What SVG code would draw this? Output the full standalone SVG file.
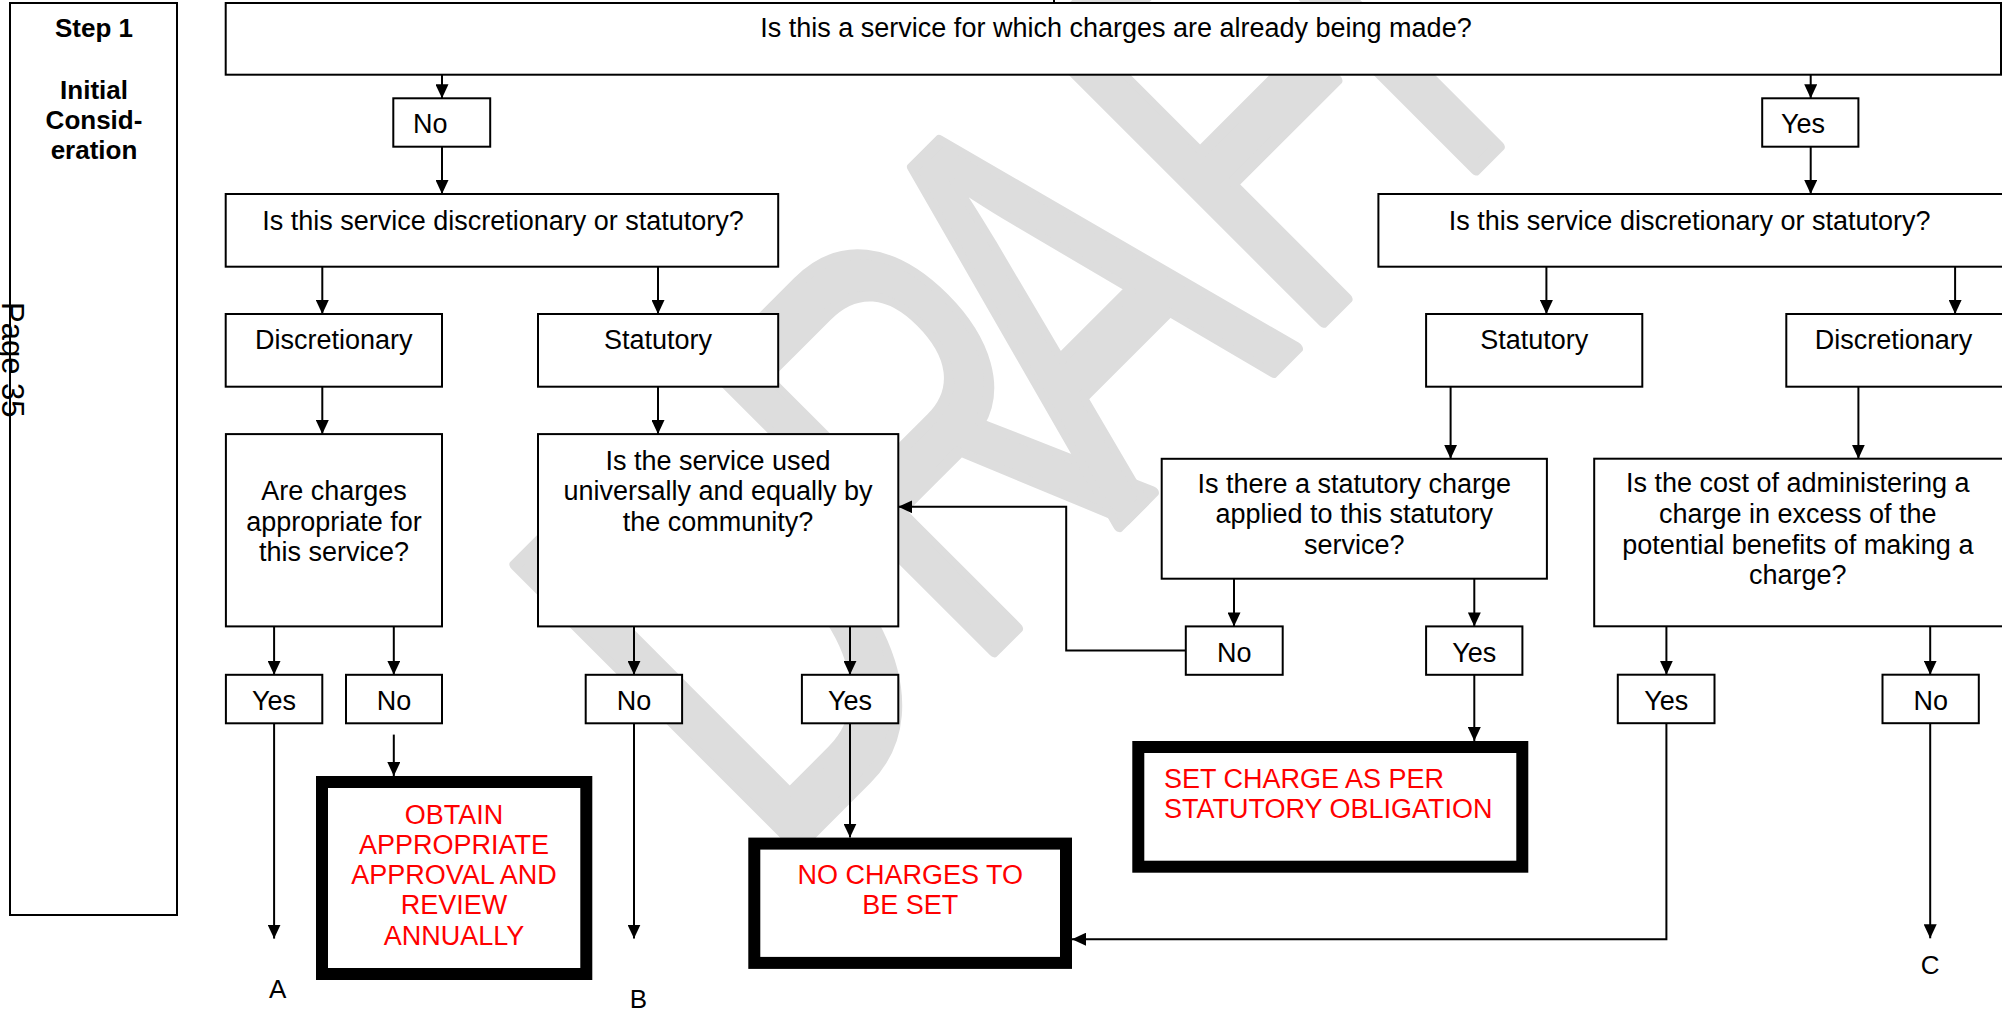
<svg xmlns="http://www.w3.org/2000/svg" width="2002" height="1013" viewBox="0 0 2002 1013">
<defs>
<marker id="ah" markerUnits="userSpaceOnUse" markerWidth="14" markerHeight="13" refX="14" refY="6.5" orient="auto">
<path d="M0,0 L14,6.5 L0,13 z" fill="#000"/>
</marker>
<style>
.bx{fill:#fff;stroke:#000;stroke-width:2}
.tk{fill:#fff;stroke:#000;stroke-width:12}
.t{font-family:"Liberation Sans",Arial,sans-serif;font-size:27px;fill:#000}
.c{text-anchor:middle}
.r{fill:#ff0000}
.b{font-weight:bold;font-size:26px}
.cn{fill:none;stroke:#000;stroke-width:2}
.ar{marker-end:url(#ah)}
.wm{font-family:"Liberation Sans",Arial,sans-serif;font-size:580px;fill:#dddddd;stroke:#dddddd;stroke-width:12;stroke-linejoin:round}
</style>
</defs>
<rect width="2002" height="1013" fill="#fff"/>
<g id="watermark">
<text class="wm" transform="translate(822.5,822.5) rotate(-45) scale(0.662,1)" x="-103 316 630 1020 1243" y="0">DRAFT</text>
</g>
<g id="step">
<rect class="bx" x="10" y="3" width="167" height="912"/>
<text class="t b c" x="94" y="36.7">Step 1</text>
<text class="t b c" x="94" y="99.3">Initial</text>
<text class="t b c" x="94" y="129.3">Consid-</text>
<text class="t b c" x="94" y="159.3">eration</text>
</g>
<g id="page">
<text class="t" transform="translate(2,302) rotate(90)" style="font-size:31px">Page 35</text>
</g>
<g id="connectors">
<line class="cn" x1="1054" y1="0" x2="1054" y2="3"/>
<line class="cn ar" x1="442" y1="74.7" x2="442" y2="98.3"/>
<line class="cn ar" x1="442" y1="146.7" x2="442" y2="194"/>
<line class="cn ar" x1="1810.7" y1="74.7" x2="1810.7" y2="98.3"/>
<line class="cn ar" x1="1810.7" y1="146.7" x2="1810.7" y2="194"/>
<line class="cn ar" x1="322.3" y1="266.7" x2="322.3" y2="314"/>
<line class="cn ar" x1="658" y1="266.7" x2="658" y2="314"/>
<line class="cn ar" x1="1546.4" y1="266.7" x2="1546.4" y2="314"/>
<line class="cn ar" x1="1955.1" y1="266.7" x2="1955.1" y2="314"/>
<line class="cn ar" x1="322.3" y1="386.7" x2="322.3" y2="434.1"/>
<line class="cn ar" x1="658" y1="386.7" x2="658" y2="434.1"/>
<line class="cn ar" x1="1450.6" y1="386.7" x2="1450.6" y2="458.8"/>
<line class="cn ar" x1="1858.4" y1="386.7" x2="1858.4" y2="458.7"/>
<line class="cn ar" x1="274.1" y1="626.4" x2="274.1" y2="674.8"/>
<line class="cn ar" x1="393.8" y1="626.4" x2="393.8" y2="674.8"/>
<line class="cn ar" x1="634" y1="626.4" x2="634" y2="674.8"/>
<line class="cn ar" x1="850" y1="626.4" x2="850" y2="674.8"/>
<line class="cn ar" x1="1234" y1="578.7" x2="1234" y2="626.4"/>
<line class="cn ar" x1="1474.3" y1="578.7" x2="1474.3" y2="626.4"/>
<line class="cn ar" x1="1666.4" y1="626.3" x2="1666.4" y2="674.7"/>
<line class="cn ar" x1="1930.2" y1="626.3" x2="1930.2" y2="674.7"/>
<line class="cn ar" x1="274.1" y1="723.3" x2="274.1" y2="938.6"/>
<line class="cn ar" x1="393.8" y1="734.6" x2="393.8" y2="776"/>
<line class="cn ar" x1="634" y1="723.3" x2="634" y2="938.6"/>
<line class="cn ar" x1="850" y1="723.3" x2="850" y2="837.6"/>
<polyline class="cn ar" points="1185.8,650.6 1066.2,650.6 1066.2,506.8 898.3,506.8"/>
<line class="cn ar" x1="1474.3" y1="674.8" x2="1474.3" y2="741"/>
<polyline class="cn ar" points="1666.4,723.2 1666.4,939.2 1072,939.2"/>
<line class="cn ar" x1="1930.2" y1="723.2" x2="1930.2" y2="938.3"/>
</g>
<g id="q1">
<rect class="bx" x="225.7" y="3" width="1775.3" height="71.7"/>
<text class="t c" x="1116" y="36.7">Is this a service for which charges are already being made?</text>
</g>
<g id="no-top">
<rect class="bx" x="393.3" y="98.3" width="96.9" height="48.4"/>
<text class="t" x="413" y="133">No</text>
</g>
<g id="yes-top">
<rect class="bx" x="1762.2" y="98.3" width="96.2" height="48.4"/>
<text class="t" x="1781" y="133">Yes</text>
</g>
<g id="q2-left">
<rect class="bx" x="225.7" y="194" width="552.5" height="72.7"/>
<text class="t c" x="503" y="229.5">Is this service discretionary or statutory?</text>
</g>
<g id="q2-right">
<rect class="bx" x="1378.4" y="194" width="640" height="72.7"/>
<text class="t c" x="1689.7" y="229.5">Is this service discretionary or statutory?</text>
</g>
<g id="disc-left">
<rect class="bx" x="225.7" y="314" width="216.3" height="72.7"/>
<text class="t c" x="333.8" y="349">Discretionary</text>
</g>
<g id="stat-left">
<rect class="bx" x="538" y="314" width="240.2" height="72.7"/>
<text class="t c" x="658" y="349">Statutory</text>
</g>
<g id="stat-right">
<rect class="bx" x="1426.1" y="314" width="216.2" height="72.7"/>
<text class="t c" x="1534.2" y="349">Statutory</text>
</g>
<g id="disc-right">
<rect class="bx" x="1786.3" y="314" width="240" height="72.7"/>
<text class="t c" x="1893.5" y="349">Discretionary</text>
</g>
<g id="q-appropriate">
<rect class="bx" x="225.9" y="434.1" width="216.1" height="192.3"/>
<text class="t c" x="334" y="500.4">Are charges</text>
<text class="t c" x="334" y="530.6">appropriate for</text>
<text class="t c" x="334" y="561">this service?</text>
</g>
<g id="q-universal">
<rect class="bx" x="538" y="434.1" width="360.3" height="192.3"/>
<text class="t c" x="718" y="470">Is the service used</text>
<text class="t c" x="718" y="500.3">universally and equally by</text>
<text class="t c" x="718" y="530.6">the community?</text>
</g>
<g id="q-statcharge">
<rect class="bx" x="1161.7" y="458.8" width="385.2" height="119.9"/>
<text class="t c" x="1354.3" y="492.5">Is there a statutory charge</text>
<text class="t c" x="1354.3" y="523">applied to this statutory</text>
<text class="t c" x="1354.3" y="553.5">service?</text>
</g>
<g id="q-cost">
<rect class="bx" x="1594.2" y="458.7" width="430" height="167.6"/>
<text class="t c" x="1797.8" y="492.3">Is the cost of administering a</text>
<text class="t c" x="1797.8" y="523">charge in excess of the</text>
<text class="t c" x="1797.8" y="553.6">potential benefits of making a</text>
<text class="t c" x="1797.8" y="584">charge?</text>
</g>
<g id="yes-a">
<rect class="bx" x="225.9" y="674.8" width="96.4" height="48.5"/>
<text class="t c" x="274.1" y="710.4">Yes</text>
</g>
<g id="no-approve">
<rect class="bx" x="346" y="674.8" width="96" height="48.5"/>
<text class="t c" x="394" y="710.4">No</text>
</g>
<g id="no-b">
<rect class="bx" x="585.7" y="674.8" width="96.4" height="48.5"/>
<text class="t c" x="633.9" y="710.4">No</text>
</g>
<g id="yes-nocharge">
<rect class="bx" x="801.9" y="674.8" width="96.4" height="48.5"/>
<text class="t c" x="850.1" y="710.4">Yes</text>
</g>
<g id="no-stat">
<rect class="bx" x="1185.8" y="626.4" width="96.9" height="48.4"/>
<text class="t c" x="1234.3" y="661.8">No</text>
</g>
<g id="yes-stat">
<rect class="bx" x="1426.1" y="626.4" width="96.3" height="48.4"/>
<text class="t c" x="1474.3" y="661.8">Yes</text>
</g>
<g id="yes-cost">
<rect class="bx" x="1617.8" y="674.7" width="96.7" height="48.5"/>
<text class="t c" x="1666.2" y="710.4">Yes</text>
</g>
<g id="no-cost">
<rect class="bx" x="1882.5" y="674.7" width="96.3" height="48.5"/>
<text class="t c" x="1930.7" y="710.4">No</text>
</g>
<g id="obtain">
<rect class="tk" x="322" y="782" width="264.3" height="192"/>
<text class="t c r" x="454" y="823.5">OBTAIN</text>
<text class="t c r" x="454" y="853.8">APPROPRIATE</text>
<text class="t c r" x="454" y="884">APPROVAL AND</text>
<text class="t c r" x="454" y="914.3">REVIEW</text>
<text class="t c r" x="454" y="944.5">ANNUALLY</text>
</g>
<g id="nocharges">
<rect class="tk" x="754.3" y="843.6" width="311.7" height="119.3"/>
<text class="t c r" x="910.2" y="884">NO CHARGES TO</text>
<text class="t c r" x="910.2" y="914">BE SET</text>
</g>
<g id="setcharge">
<rect class="tk" x="1138.3" y="747" width="384" height="119.7"/>
<text class="t r" x="1164" y="787.7">SET CHARGE AS PER</text>
<text class="t r" x="1164" y="817.7">STATUTORY OBLIGATION</text>
</g>
<g id="labels">
<text class="t c" style="font-size:26px" x="277.7" y="998">A</text>
<text class="t c" style="font-size:26px" x="638.4" y="1008">B</text>
<text class="t c" style="font-size:26px" x="1930.2" y="973.5">C</text>
</g>
</svg>
